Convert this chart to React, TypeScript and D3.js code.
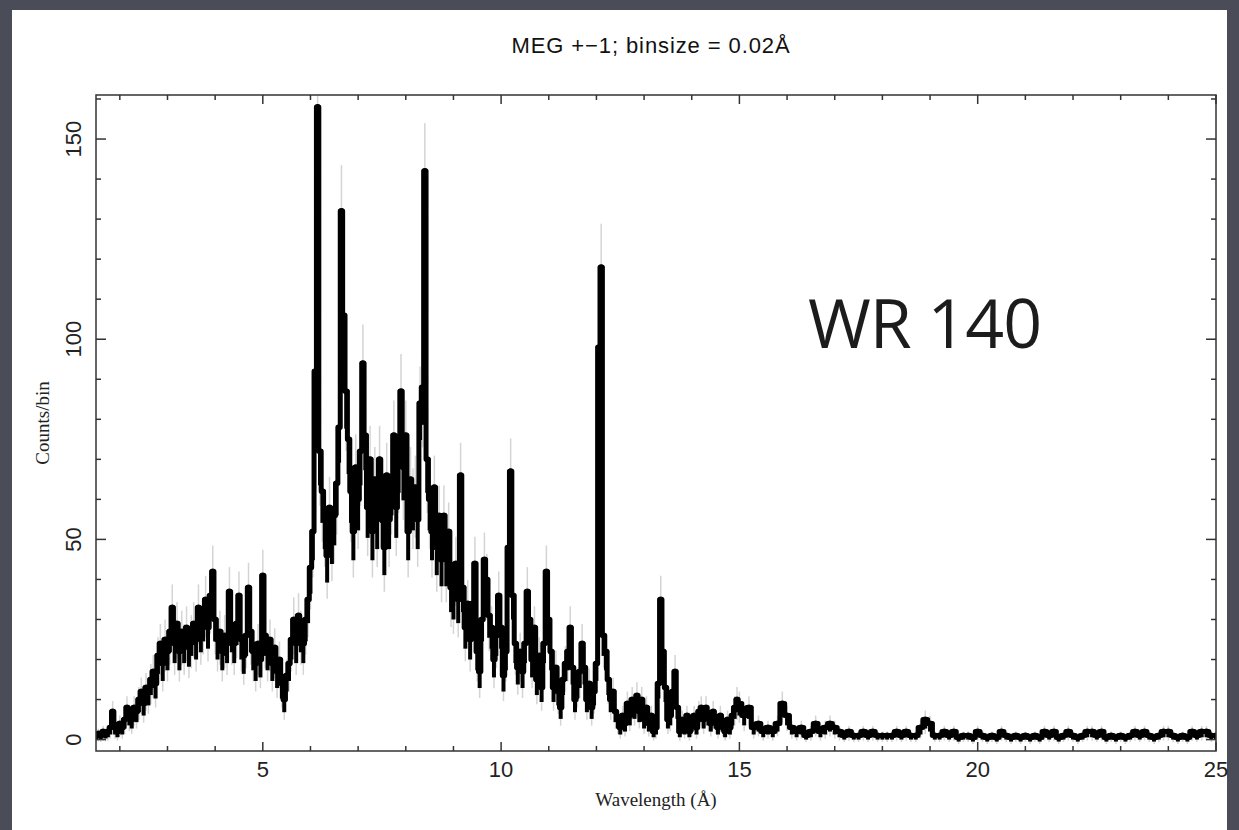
import React from 'react';
import * as d3 from 'd3';

const W = 1239;
const H = 830;

// Counts/bin, 1.50–14.95 Å at 0.05 Å spacing
const fineStart = 1.5;
const fineStep = 0.05;
const fineCounts = [
  // 1.50 – 1.95
  1, 1.5, 1, 2, 1.5, 2, 3, 7, 3, 2,
  // 2.00 – 2.95
  4, 3, 5, 8, 6, 5, 8, 7, 10, 12, 9, 13, 12, 15, 17, 14, 21, 24, 19, 25,
  // 3.00 – 3.95
  22, 27, 33, 24, 29, 22, 27, 24, 28, 23, 26, 29, 25, 33, 27, 30, 35, 28, 36, 42,
  // 4.00 – 4.95
  30, 25, 27, 22, 26, 24, 37, 27, 24, 29, 36, 25, 21, 26, 38, 27, 22, 19, 24, 20,
  // 5.00 – 5.95
  41, 26, 22, 25, 19, 23, 17, 20, 14, 10, 16, 19, 25, 30, 24, 31, 27, 24, 30, 35,
  // 6.00 – 6.95
  43, 52, 92, 158, 72, 62, 55, 46, 58, 51, 56, 64, 78, 132, 106, 87, 75, 62, 52, 68,
  // 7.00 – 7.95
  60, 72, 94, 76, 58, 70, 52, 65, 55, 70, 62, 48, 66, 55, 64, 76, 58, 70, 87, 68,
  // 8.00 – 8.95
  76, 52, 65, 60, 63, 55, 84, 88, 142, 70, 60, 52, 63, 48, 56, 45, 56, 45, 52, 38,
  // 9.00 – 9.95
  36, 44, 35, 66, 38, 28, 34, 25, 34, 44, 22, 17, 30, 45, 40, 31, 28, 20, 26, 36,
  // 10.00 – 10.95
  28, 16, 22, 48, 67, 36, 24, 18, 22, 17, 24, 37, 30, 20, 28, 15, 21, 13, 24, 42,
  // 11.00 – 11.95
  30, 22, 13, 18, 12, 8, 15, 19, 22, 28, 18, 10, 14, 17, 24, 18, 10, 14, 8, 12,
  // 12.00 – 12.95
  19, 98, 118, 26, 22, 15, 10, 12, 7, 5, 3, 6, 4, 9, 6, 10, 8, 11, 7, 10,
  // 13.00 – 13.95
  5, 8, 4, 6, 2, 3, 14, 35, 22, 13, 5, 6, 12, 17, 8, 2, 5, 3, 6, 2,
  // 14.00 – 14.95
  4, 6, 3, 7, 8, 5, 8, 6, 4, 7, 5, 3, 6, 4, 2, 5, 3, 6, 8, 10,
];

// Counts/bin, 15.0–25.0 Å at 0.1 Å spacing
const coarseStart = 15.0;
const coarseStep = 0.1;
const coarseCounts = [
  9, 6, 8, 3, 4, 2, 3, 2, 4, 9,
  6, 3, 2, 3, 1, 2, 4, 2, 3, 4,
  3, 2, 1, 2, 1, 1, 2, 1, 2, 1,
  1, 1, 1, 2, 1, 2, 1, 1, 3, 5,
  4, 1, 1, 2, 1, 2, 0.5, 1, 1, 0.5,
  2, 1, 0.5, 1, 0.5, 2, 1, 0.5, 1, 0.5,
  1, 0.5, 1, 0.5, 2, 1, 2, 0.5, 1, 2,
  1, 0.5, 1, 2, 2, 1, 2, 0.5, 1, 0.5,
  1, 0.5, 1, 2, 1, 2, 1, 0.5, 1, 2,
  2, 1, 0.5, 1, 0.5, 2, 1, 2, 2, 1,
  1,
];

const xMajorTicks = [5, 10, 15, 20, 25];
const xMinorTicks = [2, 3, 4, 6, 7, 8, 9, 11, 12, 13, 14, 16, 17, 18, 19, 21, 22, 23, 24];
const yMajorTicks = [0, 50, 100, 150];
const yMinorTicks = [10, 20, 30, 40, 60, 70, 80, 90, 110, 120, 130, 140, 160];

const titleText = 'MEG +\u22121; binsize = 0.02\u00C5';
const xLabel = 'Wavelength (\u00C5)';
const yLabel = 'Counts/bin';
const annotation = 'WR 140';

type P = { w: number; c: number };

const PL = 96, PR = 1216, PT = 95, PB = 751;

export default function App() {
  const x = d3.scaleLinear().domain([1.5, 25]).range([PL, PR]);
  const y = d3.scaleLinear().domain([-2.85, 161]).range([PB, PT]);

  const points: P[] = [
    ...fineCounts.map((c, i) => ({ w: fineStart + i * fineStep, c })),
    ...coarseCounts.map((c, i) => ({ w: coarseStart + i * coarseStep, c })),
  ];

  const line = d3
    .line<P>()
    .x((d) => x(d.w))
    .y((d) => y(d.c))
    .curve(d3.curveStep);

  const sans = '"Liberation Sans", Arial, Helvetica, sans-serif';
  const serif = '"Liberation Serif", "Times New Roman", serif';

  return (
    <div style={{ position: 'absolute', left: 0, top: 0, width: W, height: H, overflow: 'hidden' }}>
      <svg width={W} height={H} style={{ display: 'block' }}>
        <rect width={W} height={H} fill="#4a4d57" />
        <rect x={12} y={10} width={1215} height={H - 10} fill="#ffffff" />
        <defs>
          <clipPath id="plotClip">
            <rect x={PL} y={PT} width={PR - PL} height={PB - PT} />
          </clipPath>
        </defs>

        <text
          x={(PL + PR) / 2 - 5}
          y={53}
          textAnchor="middle"
          fontFamily={sans}
          fontSize={22}
          letterSpacing={0.9}
          fill="#111"
        >
          {titleText}
        </text>

        <g clipPath="url(#plotClip)">
          {points.map((d, i) => {
            const e = Math.sqrt(Math.max(d.c, 1));
            return (
              <line
                key={'e' + i}
                x1={x(d.w)}
                x2={x(d.w)}
                y1={y(d.c - 1.6 * e)}
                y2={y(d.c + e)}
                stroke="#d4d4d4"
                strokeWidth={1.5}
              />
            );
          })}
          {points.map((d, i) => {
            const e = Math.sqrt(Math.max(d.c, 1));
            return (
              <line
                key={'s' + i}
                x1={x(d.w)}
                x2={x(d.w)}
                y1={y(d.c - 1.0 * e)}
                y2={y(d.c)}
                stroke="#000"
                strokeWidth={4}
              />
            );
          })}
          <path d={line(points) || ''} fill="none" stroke="#000" strokeWidth={5} strokeLinejoin="round" />
          {points.map((d, i) => (
            <circle key={'c' + i} cx={x(d.w)} cy={y(d.c)} r={3} fill="#000" />
          ))}
        </g>

        <rect x={PL} y={PT} width={PR - PL} height={PB - PT} fill="none" stroke="#333" strokeWidth={1.5} />

        {xMajorTicks.map((t) => (
          <g key={'xM' + t}>
            <line x1={x(t)} x2={x(t)} y1={PB} y2={PB - 9} stroke="#333" strokeWidth={1.5} />
            <line x1={x(t)} x2={x(t)} y1={PT} y2={PT + 9} stroke="#333" strokeWidth={1.5} />
            <text x={x(t)} y={777} textAnchor="middle" fontFamily={sans} fontSize={22} fill="#222">
              {t}
            </text>
          </g>
        ))}
        {xMinorTicks.map((t) => (
          <g key={'xm' + t}>
            <line x1={x(t)} x2={x(t)} y1={PB} y2={PB - 5} stroke="#333" strokeWidth={1.5} />
            <line x1={x(t)} x2={x(t)} y1={PT} y2={PT + 5} stroke="#333" strokeWidth={1.5} />
          </g>
        ))}
        {yMajorTicks.map((t) => (
          <g key={'yM' + t}>
            <line x1={PL} x2={PL + 10} y1={y(t)} y2={y(t)} stroke="#333" strokeWidth={1.5} />
            <line x1={PR} x2={PR - 10} y1={y(t)} y2={y(t)} stroke="#333" strokeWidth={1.5} />
            <text
              transform={`translate(81,${y(t)}) rotate(-90)`}
              textAnchor="middle"
              fontFamily={sans}
              fontSize={22}
              fill="#222"
            >
              {t}
            </text>
          </g>
        ))}
        {yMinorTicks.map((t) => (
          <g key={'ym' + t}>
            <line x1={PL} x2={PL + 5} y1={y(t)} y2={y(t)} stroke="#333" strokeWidth={1.5} />
            <line x1={PR} x2={PR - 5} y1={y(t)} y2={y(t)} stroke="#333" strokeWidth={1.5} />
          </g>
        ))}

        <text x={(PL + PR) / 2} y={806} textAnchor="middle" fontFamily={serif} fontSize={19} fill="#222">
          {xLabel}
        </text>
        <text
          transform={`translate(49,${(PT + PB) / 2}) rotate(-90)`}
          textAnchor="middle"
          fontFamily={serif}
          fontSize={19}
          fill="#222"
        >
          {yLabel}
        </text>

        <text
          x={808}
          y={348}
          fontFamily='"Open Sans", "DejaVu Sans", sans-serif'
          fontSize={68}
          fill="#1c1c1c"
          letterSpacing={-1}
        >
          {annotation}
        </text>
      </svg>
    </div>
  );
}
